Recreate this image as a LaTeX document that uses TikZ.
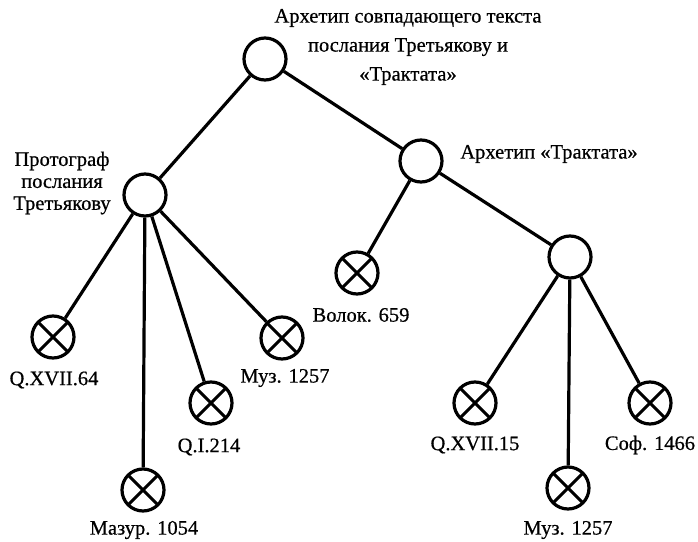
\documentclass[tikz,border=0pt]{standalone}
\usepackage{fontspec}
\setmainfont[FakeBold=0.6]{Liberation Serif}
\begin{document}
\begin{tikzpicture}[x=1bp,y=-1bp,
  edge/.style={line width=3.2bp},
  archnode/.style={circle,draw,line width=3.2bp,minimum size=42bp,inner sep=0pt},
  witness/.style={archnode,path picture={
      \draw[line width=3bp] (path picture bounding box.north east) -- (path picture bounding box.south west)
                            (path picture bounding box.north west) -- (path picture bounding box.south east);}},
  lbl/.style={inner sep=0pt,font=\fontsize{20.5bp}{22bp}\selectfont}]
\useasboundingbox (0,0) rectangle (698,542);

% archetypes and protographs (empty circles)
\node[archnode] (root)  at (265,59)  {};
\node[archnode] (proto) at (145,195) {};
\node[archnode] (trakt) at (421,161) {};
\node[archnode] (sub)   at (570,257) {};

% extant manuscripts (crossed circles)
\node[witness] (q64)   at (53,337)  {};
\node[witness] (mazur) at (143,490) {};
\node[witness] (qi214) at (211,403) {};
\node[witness] (muzA)  at (282,338) {};
\node[witness] (volok) at (357,273) {};
\node[witness] (q15)   at (475,403) {};
\node[witness] (muzB)  at (568,488) {};
\node[witness] (sof)   at (650,403) {};

% stemma edges
\draw[edge] (root) -- (proto);
\draw[edge] (root) -- (trakt);
\draw[edge] (proto) -- (q64);
\draw[edge] (proto) -- (mazur);
\draw[edge] (proto) -- (qi214);
\draw[edge] (proto) -- (muzA);
\draw[edge] (trakt) -- (volok);
\draw[edge] (trakt) -- (sub);
\draw[edge] (sub) -- (q15);
\draw[edge] (sub) -- (muzB);
\draw[edge] (sub) -- (sof);

% labels
\node[lbl,align=center,font=\fontsize{20.5bp}{29bp}\selectfont] (lroot) at (408,47)
  {Архетип совпадающего текста\\послания Третьякову и\\«Трактата»};
\node[lbl,align=center] (lproto) at (62,183) {Протограф\\послания\\Третьякову};
\node[lbl] (ltrakt) at (549,154) {Архетип «Трактата»};
\node[lbl] (lq64)   at (54,380)  {Q.XVII.64};
\node[lbl] (lmazur) at (144,530) {Мазур. 1054};
\node[lbl] (lqi214) at (209,447) {Q.I.214};
\node[lbl] (lmuzA)  at (285,378) {Муз. 1257};
\node[lbl] (lvolok) at (361,315) {Волок. 659};
\node[lbl] (lq15)   at (475,445) {Q.XVII.15};
\node[lbl] (lmuzB)  at (568,530) {Муз. 1257};
\node[lbl] (lsof)   at (650,445) {Соф. 1466};
\end{tikzpicture}
\end{document}
